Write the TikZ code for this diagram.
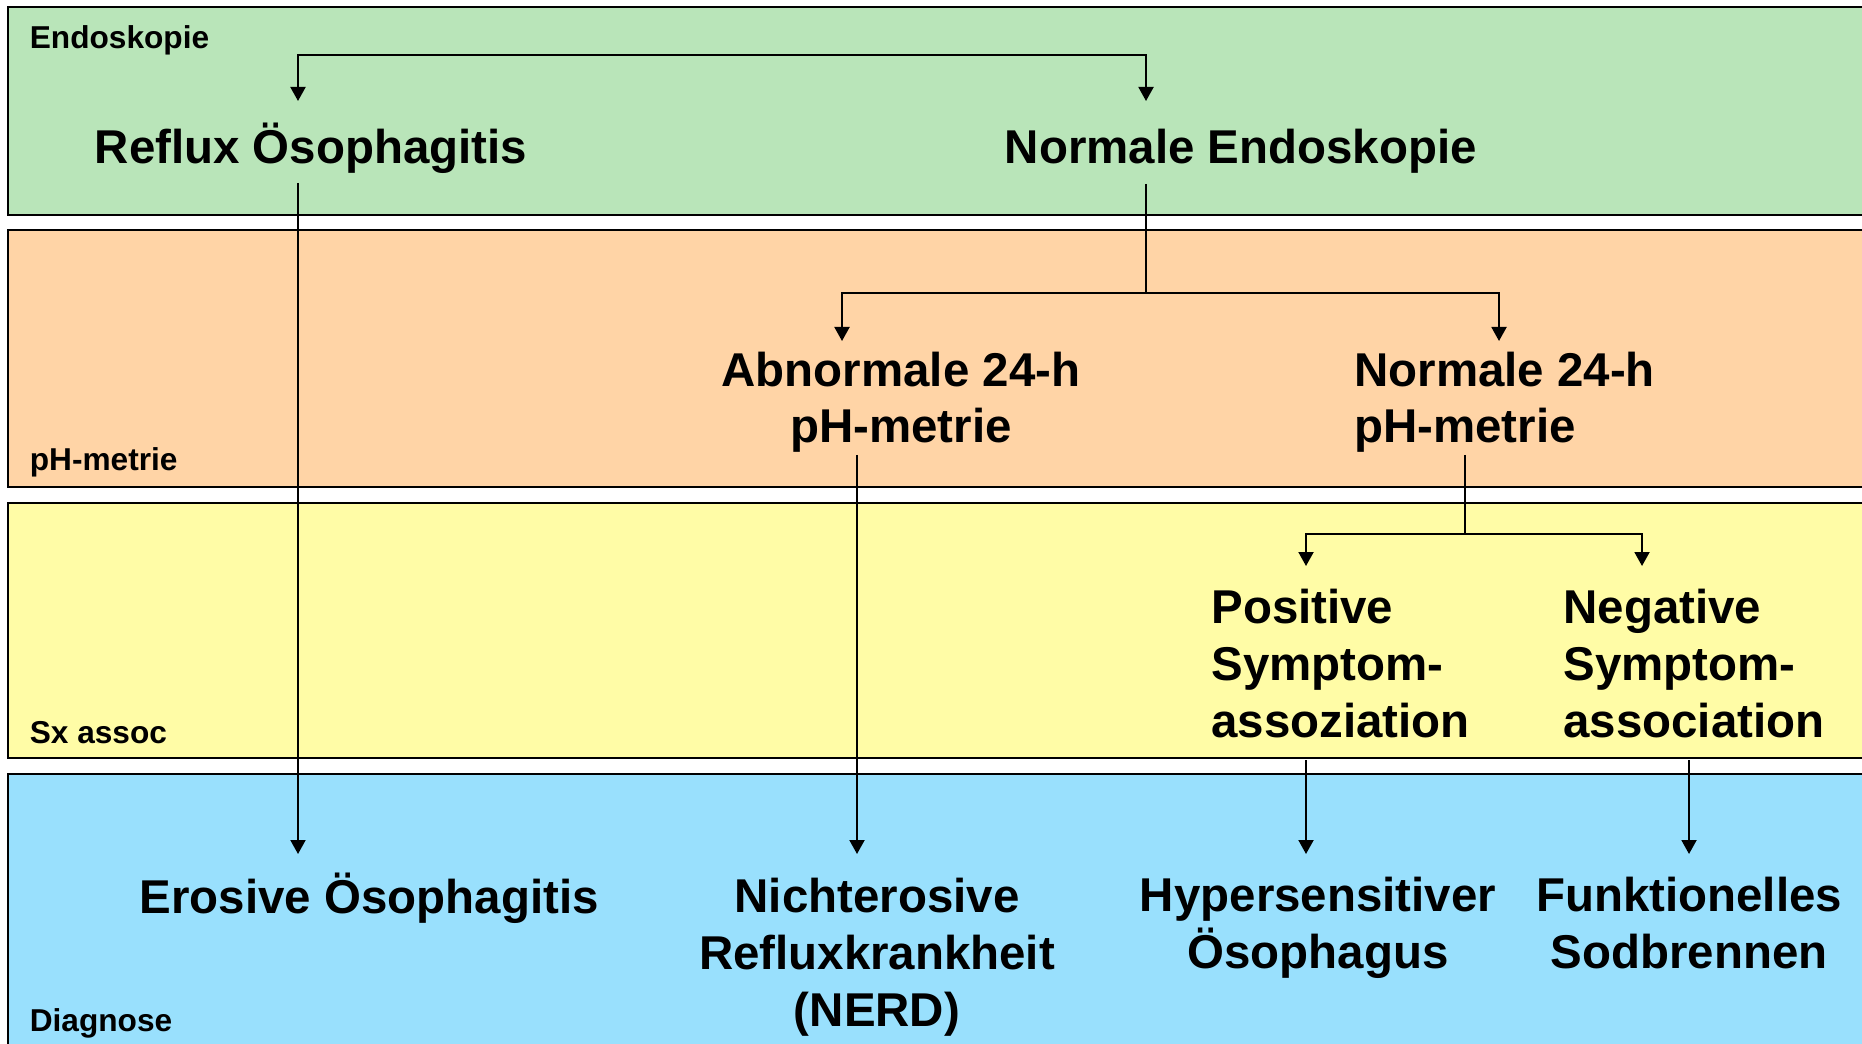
\documentclass[tikz,border=0pt]{standalone}
\usepackage{fontspec}
\setmainfont{Liberation Sans}
\usetikzlibrary{arrows.meta}

\definecolor{endogreen}{HTML}{B9E5B9}
\definecolor{phorange}{HTML}{FFD4A6}
\definecolor{sxyellow}{HTML}{FFFCA6}
\definecolor{diagblue}{HTML}{99E0FD}

\begin{document}
\begin{tikzpicture}[
    >={Triangle[width=3mm,length=2.8mm]},
    band/.style={draw, line width=0.5mm},
    lane/.style={font=\fontsize{18pt}{21pt}\selectfont\bfseries,
        anchor=base west, inner sep=0pt},
    finding/.style={font=\fontsize{27pt}{32.4pt}\selectfont\bfseries,
        inner sep=0pt},
    link/.style={line width=0.4mm}
]

\clip (0,0) rectangle (372.4mm,-208.8mm);

% Bands: Endoskopie - pH-metrie - Sx assoc - Diagnose
\fill[endogreen] (1.6mm,-1.4mm)   rectangle (380mm,-43mm);
\draw[band]      (1.6mm,-1.4mm)   rectangle (380mm,-43mm);
\fill[phorange]  (1.6mm,-46mm)    rectangle (380mm,-97.4mm);
\draw[band]      (1.6mm,-46mm)    rectangle (380mm,-97.4mm);
\fill[sxyellow]  (1.6mm,-100.6mm) rectangle (380mm,-151.6mm);
\draw[band]      (1.6mm,-100.6mm) rectangle (380mm,-151.6mm);
\fill[diagblue]  (1.6mm,-154.8mm) rectangle (380mm,-215mm);
\draw[band]      (1.6mm,-154.8mm) rectangle (380mm,-215mm);

% Band labels
\node[lane] (lend)  at (5.9mm,-9.8mm)   {Endoskopie};
\node[lane] (lph)   at (5.9mm,-94.2mm)  {pH-metrie};
\node[lane] (lsx)   at (5.9mm,-148.6mm) {Sx assoc};
\node[lane] (ldiag) at (5.9mm,-206.3mm) {Diagnose};

% Findings (base = baseline of the last line)
\node[finding, anchor=base west] (refl) at (18.9mm,-32.8mm)  {Reflux Ösophagitis};
\node[finding, anchor=base west] (nend) at (200.9mm,-32.8mm) {Normale Endoskopie};

\node[finding, anchor=base, align=center] (abn) at (180.2mm,-88.6mm)
    {Abnormale 24-h\\pH-metrie};
\node[finding, anchor=base west, align=left] (nph) at (270.8mm,-88.6mm)
    {Normale 24-h\\pH-metrie};

\node[finding, anchor=base west, align=left] (pos) at (242.2mm,-147.4mm)
    {Positive\\Symptom-\\assoziation};
\node[finding, anchor=base west, align=left] (neg) at (312.6mm,-147.4mm)
    {Negative\\Symptom-\\association};

\node[finding, anchor=base west] (ero) at (27.9mm,-182.6mm) {Erosive Ösophagitis};
\node[finding, anchor=base, align=center] (nerd) at (175.4mm,-205.2mm)
    {Nichterosive\\Refluxkrankheit\\(NERD)};
\node[finding, anchor=base, align=center] (hyp) at (263.6mm,-193.6mm)
    {Hypersensitiver\\Ösophagus};
\node[finding, anchor=base, align=center] (fun) at (337.8mm,-193.6mm)
    {Funktionelles\\Sodbrennen};

% Connector end points
\coordinate (refl-in)  at (59.6mm,-20.2mm);
\coordinate (nend-in)  at (229.2mm,-20.2mm);
\coordinate (refl-out) at (59.6mm,-36.6mm);
\coordinate (nend-out) at (229.2mm,-36.8mm);
\coordinate (abn-in)   at (168.4mm,-68.2mm);
\coordinate (nph-in)   at (299.8mm,-68.2mm);
\coordinate (abn-out)  at (171.4mm,-91mm);
\coordinate (nph-out)  at (293mm,-91mm);
\coordinate (pos-in)   at (261.2mm,-113.2mm);
\coordinate (neg-in)   at (328.4mm,-113.2mm);
\coordinate (pos-out)  at (261.2mm,-152mm);
\coordinate (neg-out)  at (337.8mm,-152mm);
\coordinate (ero-in)   at (59.6mm,-170.8mm);
\coordinate (nerd-in)  at (171.4mm,-170.8mm);
\coordinate (hyp-in)   at (261.2mm,-170.8mm);
\coordinate (fun-in)   at (337.8mm,-170.8mm);

% Connectors
\draw[link, <->] (refl-in) -- ++(0,9.2mm) -| (nend-in);
\draw[link, ->] (refl-out) -- (ero-in);
\draw[link] (nend-out) -- ++(0,-21.8mm) coordinate (nsplit);
\draw[link, ->] (nsplit) -| (abn-in);
\draw[link, ->] (nsplit) -| (nph-in);
\draw[link, ->] (abn-out) -- (nerd-in);
\draw[link] (nph-out) -- ++(0,-15.8mm) coordinate (psplit);
\draw[link, ->] (psplit) -| (pos-in);
\draw[link, ->] (psplit) -| (neg-in);
\draw[link, ->] (pos-out) -- (hyp-in);
\draw[link, ->] (neg-out) -- (fun-in);

\end{tikzpicture}
\end{document}
